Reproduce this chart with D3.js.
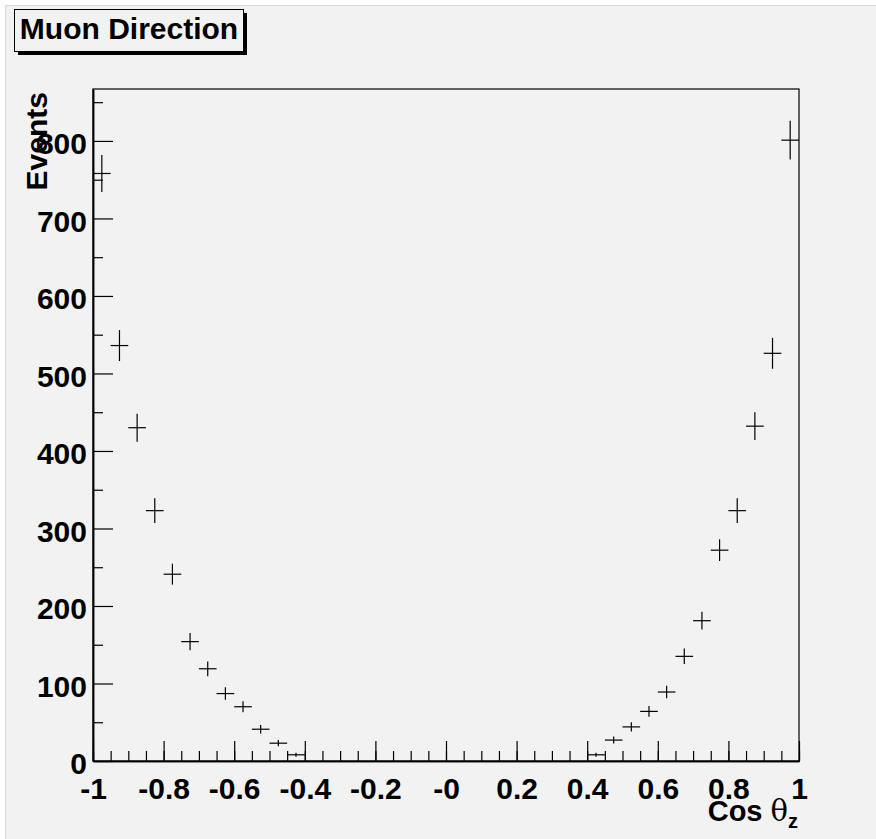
<!DOCTYPE html>
<html>
<head>
<meta charset="utf-8">
<script src="https://cdn.jsdelivr.net/npm/d3@7"></script>
<style>
  html, body { margin: 0; padding: 0; background: #ffffff; }
  svg { display: block; }
  text { font-family: "Liberation Sans", Arial, Helvetica, sans-serif; }
</style>
</head>
<body>
<svg id="chart" width="876" height="839"></svg>
<script>
// Bin centres of cos(theta_z), 40 bins of width 0.05 over [-1, 1]
const binCenters = [
  -0.975, -0.925, -0.875, -0.825, -0.775, -0.725, -0.675, -0.625, -0.575, -0.525,
  -0.475, -0.425, -0.375, -0.325, -0.275, -0.225, -0.175, -0.125, -0.075, -0.025,
   0.025,  0.075,  0.125,  0.175,  0.225,  0.275,  0.325,  0.375,  0.425,  0.475,
   0.525,  0.575,  0.625,  0.675,  0.725,  0.775,  0.825,  0.875,  0.925,  0.975
];
// Event counts per bin
const counts = [
  758, 536, 430, 323, 241, 154, 119, 87, 70, 41,
  23, 8, 0, 0, 0, 0, 0, 0, 0, 0,
  0, 0, 0, 0, 0, 0, 0, 0, 8, 27,
  44, 64, 89, 135, 181, 272, 323, 432, 526, 801
];
// Statistical errors per bin
const errors = [
  24, 20, 18, 16, 13.5, 11, 9.5, 8, 7, 5.5,
  4, 2.5, 0, 0, 0, 0, 0, 0, 0, 0,
  0, 0, 0, 0, 0, 0, 0, 0, 2.5, 4.5,
  6, 7, 8, 10, 11.5, 14, 16, 18, 20, 25
];
const binWidth = 0.05;

// Axis ticks
const xMajorTicks = [-1, -0.8, -0.6, -0.4, -0.2, 0, 0.2, 0.4, 0.6, 0.8, 1];
const xTickLabels = ["-1", "-0.8", "-0.6", "-0.4", "-0.2", "-0", "0.2", "0.4", "0.6", "0.8", "1"];
const xMinorTicks = d3.range(-20, 21).map(i => i * 0.05);
const yMajorTicks = [0, 100, 200, 300, 400, 500, 600, 700, 800];
const yMinorTicks = [50, 150, 250, 350, 450, 550, 650, 750, 850];

const titleText = "Muon Direction";
const yTitle = "Events";

const svg = d3.select("#chart");
const frame = { left: 93, right: 799, top: 89, bottom: 761 };

// Canvas (pad) background
svg.append("rect")
  .attr("x", 5.5).attr("y", 5.5)
  .attr("width", 880).attr("height", 850)
  .attr("fill", "#f2f2f2")
  .attr("stroke", "#d8d8d8")
  .attr("stroke-width", 1);

const x = d3.scaleLinear().domain([-1, 1]).range([frame.left, frame.right]);
const y = d3.scaleLinear().domain([0, 867]).range([frame.bottom, frame.top]);

// Frame
svg.append("rect")
  .attr("x", frame.left).attr("y", frame.top)
  .attr("width", frame.right - frame.left)
  .attr("height", frame.bottom - frame.top)
  .attr("fill", "none")
  .attr("stroke", "#000")
  .attr("stroke-width", 1.2);

// X axis: minor ticks, then major ticks with labels (ticks point into the frame)
const xMinor = svg.append("g")
  .attr("transform", `translate(0,${frame.bottom})`)
  .call(d3.axisBottom(x).tickValues(xMinorTicks).tickSizeInner(-10).tickSizeOuter(0).tickFormat(""));
const xMajor = svg.append("g")
  .attr("transform", `translate(0,${frame.bottom})`)
  .call(d3.axisBottom(x).tickValues(xMajorTicks).tickSizeInner(-20).tickSizeOuter(0)
    .tickPadding(17).tickFormat((d, i) => xTickLabels[i]));

// Y axis
const yMinor = svg.append("g")
  .attr("transform", `translate(${frame.left},0)`)
  .call(d3.axisLeft(y).tickValues(yMinorTicks).tickSizeInner(-10).tickSizeOuter(0).tickFormat(""));
const yMajor = svg.append("g")
  .attr("transform", `translate(${frame.left},0)`)
  .call(d3.axisLeft(y).tickValues(yMajorTicks).tickSizeInner(-20).tickSizeOuter(0)
    .tickPadding(6).tickFormat(d3.format("d")));

[xMinor, xMajor, yMinor, yMajor].forEach(g => {
  g.select(".domain").attr("stroke", "#000").attr("stroke-width", 1.5);
  g.selectAll(".tick line").attr("stroke", "#000").attr("stroke-width", 1.2);
  g.selectAll(".tick text")
    .attr("fill", "#000")
    .attr("font-family", "'Liberation Sans', Arial, sans-serif")
    .attr("font-size", 30)
    .attr("font-weight", "bold");
});
yMajor.selectAll(".tick text").attr("dy", "0.42em");

// Data points with error bars
const pts = binCenters.map((c, i) => ({ c, n: counts[i], e: errors[i] })).filter(d => d.n > 0);
const marks = svg.append("g").attr("stroke", "#000").attr("stroke-width", 1.2);
marks.selectAll("line.h").data(pts).join("line")
  .attr("class", "h")
  .attr("x1", d => x(d.c - binWidth / 2)).attr("x2", d => x(d.c + binWidth / 2))
  .attr("y1", d => y(d.n)).attr("y2", d => y(d.n));
marks.selectAll("line.v").data(pts).join("line")
  .attr("class", "v")
  .attr("x1", d => x(d.c)).attr("x2", d => x(d.c))
  .attr("y1", d => y(d.n - d.e)).attr("y2", d => y(d.n + d.e));

// Title box with drop shadow
const tb = { x: 14, y: 9, w: 229, h: 42 };
svg.append("rect").attr("x", tb.x + 4).attr("y", tb.y + 4).attr("width", tb.w).attr("height", tb.h).attr("fill", "#000");
svg.append("rect").attr("x", tb.x + 0.5).attr("y", tb.y + 0.5).attr("width", tb.w).attr("height", tb.h)
  .attr("fill", "#f2f2f2").attr("stroke", "#000").attr("stroke-width", 1);
svg.append("text")
  .attr("x", tb.x + tb.w / 2 + 0.5).attr("y", 39)
  .attr("text-anchor", "middle")
  .attr("font-size", 30).attr("font-weight", "bold").attr("fill", "#000")
  .text(titleText);

// Y axis title
svg.append("text")
  .attr("transform", `translate(47,92) rotate(-90)`)
  .attr("text-anchor", "end")
  .attr("font-size", 30).attr("font-weight", "bold").attr("fill", "#000")
  .text(yTitle);

// X axis title: Cos θ_z
const xt = svg.append("text")
  .attr("x", 798).attr("y", 821)
  .attr("text-anchor", "end")
  .attr("fill", "#000");
xt.append("tspan").attr("font-size", 29).attr("font-weight", "bold").text("Cos ");
xt.append("tspan").attr("font-size", 29).attr("font-family", "'DejaVu Serif', 'Liberation Serif', serif").text("θ");
xt.append("tspan").attr("font-size", 20).attr("font-weight", "bold").attr("dy", 7).text("z");
</script>
</body>
</html>
